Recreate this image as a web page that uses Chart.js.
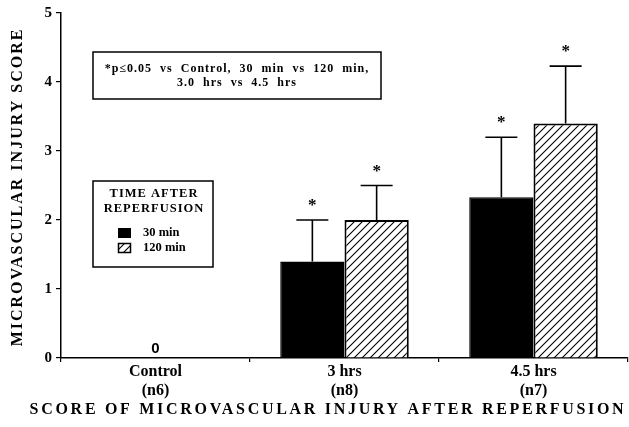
<!DOCTYPE html>
<html>
<head>
<meta charset="utf-8">
<script src="https://cdn.jsdelivr.net/npm/chart.js@4.4.1/dist/chart.umd.min.js"></script>
<style>
  html, body { margin: 0; padding: 0; background: #fff; }
  #wrap { width: 629px; height: 427px; }
</style>
</head>
<body>
<div id="wrap"><canvas id="chart" width="629" height="427"></canvas></div>
<script>
// data
const categories = [['Control', '(n6)'], ['3 hrs', '(n8)'], ['4.5 hrs', '(n7)']];
const seriesNames = ['30 min', '120 min'];
const score30 = [0, 1.4, 2.33];
const score120 = [0, 2.0, 3.4];
const err30 = [0, 0.6, 0.87];
const err120 = [0, 0.5, 0.83];
const sig30 = [false, true, true];
const sig120 = [false, true, true];
const yTicks = [0, 1, 2, 3, 4, 5];
const noteLines = ['*p\u22640.05  vs  Control,  30  min  vs  120  min,', '3.0  hrs  vs  4.5  hrs'];
const legendTitle = ['TIME AFTER', 'REPERFUSION'];
const yTitle = 'MICROVASCULAR INJURY SCORE';
const xTitle = 'SCORE OF MICROVASCULAR INJURY AFTER REPERFUSION';

const SERIF = '"Liberation Serif", "Times New Roman", serif';

function makeHatch() {
    const c = document.createElement('canvas');
    c.width = 8; c.height = 8;
    const g = c.getContext('2d');
    g.fillStyle = '#fff';
    g.fillRect(0, 0, 8, 8);
    g.strokeStyle = '#000';
    g.lineWidth = 1.1;
    g.beginPath();
    g.moveTo(0, 8); g.lineTo(8, 0);
    g.moveTo(-2, 2); g.lineTo(2, -2);
    g.moveTo(6, 10); g.lineTo(10, 6);
    g.stroke();
    return document.getElementById('chart').getContext('2d').createPattern(c, 'repeat');
}
const hatch = makeHatch();

const errors = [err30, err120];
const sigs = [sig30, sig120];

const extras = {
    id: 'extras',
    afterDatasetsDraw(chart) {
        const ctx = chart.ctx;
        const y = chart.scales.y;
        const x = chart.scales.x;
        ctx.save();
        chart.data.datasets.forEach((ds, di) => {
            chart.getDatasetMeta(di).data.forEach((bar, i) => {
                const v = ds.data[i];
                if (!v) return;
                const top = y.getPixelForValue(v + errors[di][i]);
                ctx.strokeStyle = '#000';
                ctx.lineWidth = 1.6;
                ctx.beginPath();
                ctx.moveTo(bar.x, bar.y);
                ctx.lineTo(bar.x, top);
                ctx.moveTo(bar.x - 16, top);
                ctx.lineTo(bar.x + 16, top);
                ctx.stroke();
                if (sigs[di][i]) {
                    ctx.fillStyle = '#000';
                    ctx.font = 'bold 17px ' + SERIF;
                    ctx.textAlign = 'center';
                    ctx.textBaseline = 'alphabetic';
                    ctx.fillText('*', bar.x, top - 10);
                }
            });
        });
        // zero label
        score30.forEach((v, i) => {
            if (v === 0 && score120[i] === 0) {
                ctx.fillStyle = '#000';
                ctx.font = 'bold 15px "Liberation Sans", Arial, sans-serif';
                ctx.textAlign = 'center';
                ctx.textBaseline = 'alphabetic';
                ctx.fillText('0', x.getPixelForValue(i), y.getPixelForValue(0) - 5);
            }
        });
        ctx.restore();
    },
    afterDraw(chart) {
        const ctx = chart.ctx;
        ctx.save();
        ctx.fillStyle = '#000';
        ctx.strokeStyle = '#000';

        // note box
        ctx.lineWidth = 1.5;
        ctx.strokeRect(93, 52, 288, 47);
        ctx.font = 'bold 12px ' + SERIF;
        ctx.letterSpacing = '1px';
        ctx.textAlign = 'center';
        ctx.textBaseline = 'middle';
        ctx.fillText(noteLines[0], 237, 69);
        ctx.fillText(noteLines[1], 237, 83);

        // legend box
        ctx.strokeRect(93, 181, 120, 86);
        ctx.font = 'bold 12.5px ' + SERIF;
        ctx.letterSpacing = '1px';
        ctx.fillText(legendTitle[0], 154, 194);
        ctx.fillText(legendTitle[1], 154, 209);
        ctx.letterSpacing = '0px';
        ctx.fillRect(118, 228, 13, 10);
        ctx.fillStyle = hatch;
        ctx.fillRect(118, 243, 13, 10);
        ctx.lineWidth = 1.5;
        ctx.strokeRect(118.5, 243.5, 12, 9);
        ctx.fillStyle = '#000';
        ctx.textAlign = 'left';
        ctx.font = 'bold 12.5px ' + SERIF;
        ctx.fillText(seriesNames[0], 143, 233);
        ctx.fillText(seriesNames[1], 143, 248);

        // axis titles
        ctx.font = 'bold 16px ' + SERIF;
        ctx.letterSpacing = '2.7px';
        ctx.textAlign = 'center';
        ctx.fillText(xTitle, 328, 410);
        ctx.letterSpacing = '2px';
        ctx.translate(18, 187);
        ctx.rotate(-Math.PI / 2);
        ctx.fillText(yTitle, 0, 0);
        ctx.restore();
    }
};

new Chart(document.getElementById('chart'), {
    type: 'bar',
    data: {
        labels: categories,
        datasets: [
            {
                label: seriesNames[0],
                data: score30,
                backgroundColor: '#000',
                borderColor: '#000',
                borderWidth: 1.5,
                borderSkipped: 'bottom',
            },
            {
                label: seriesNames[1],
                data: score120,
                backgroundColor: hatch,
                borderColor: '#000',
                borderWidth: 2,
                borderSkipped: 'bottom',
            },
        ],
    },
    options: {
        responsive: false,
        animation: false,
        devicePixelRatio: 1,
        categoryPercentage: 0.68,
        barPercentage: 1.0,
        layout: { padding: { left: 0, top: 10, right: 1, bottom: 0 } },
        plugins: {
            legend: { display: false },
            tooltip: { enabled: false },
        },
        scales: {
            x: {
                afterFit: (s) => { s.height = 69; },
                grid: { drawOnChartArea: false, color: '#000', tickLength: 4, lineWidth: 1.2 },
                border: { color: '#000', width: 1.5 },
                ticks: {
                    color: '#000',
                    padding: 0,
                    font: { family: SERIF, size: 16, weight: 'bold', lineHeight: 1.2 },
                },
            },
            y: {
                min: 0,
                max: 5,
                afterFit: (s) => { s.width = 61; },
                afterBuildTicks: (s) => { s.ticks = yTicks.map(v => ({ value: v })); },
                grid: { drawOnChartArea: false, color: '#000', tickLength: 5, lineWidth: 1.2 },
                border: { color: '#000', width: 1.5 },
                ticks: {
                    color: '#000',
                    padding: 4,
                    font: { family: SERIF, size: 15, weight: 'bold' },
                },
            },
        },
    },
    plugins: [extras],
});
</script>
</body>
</html>
